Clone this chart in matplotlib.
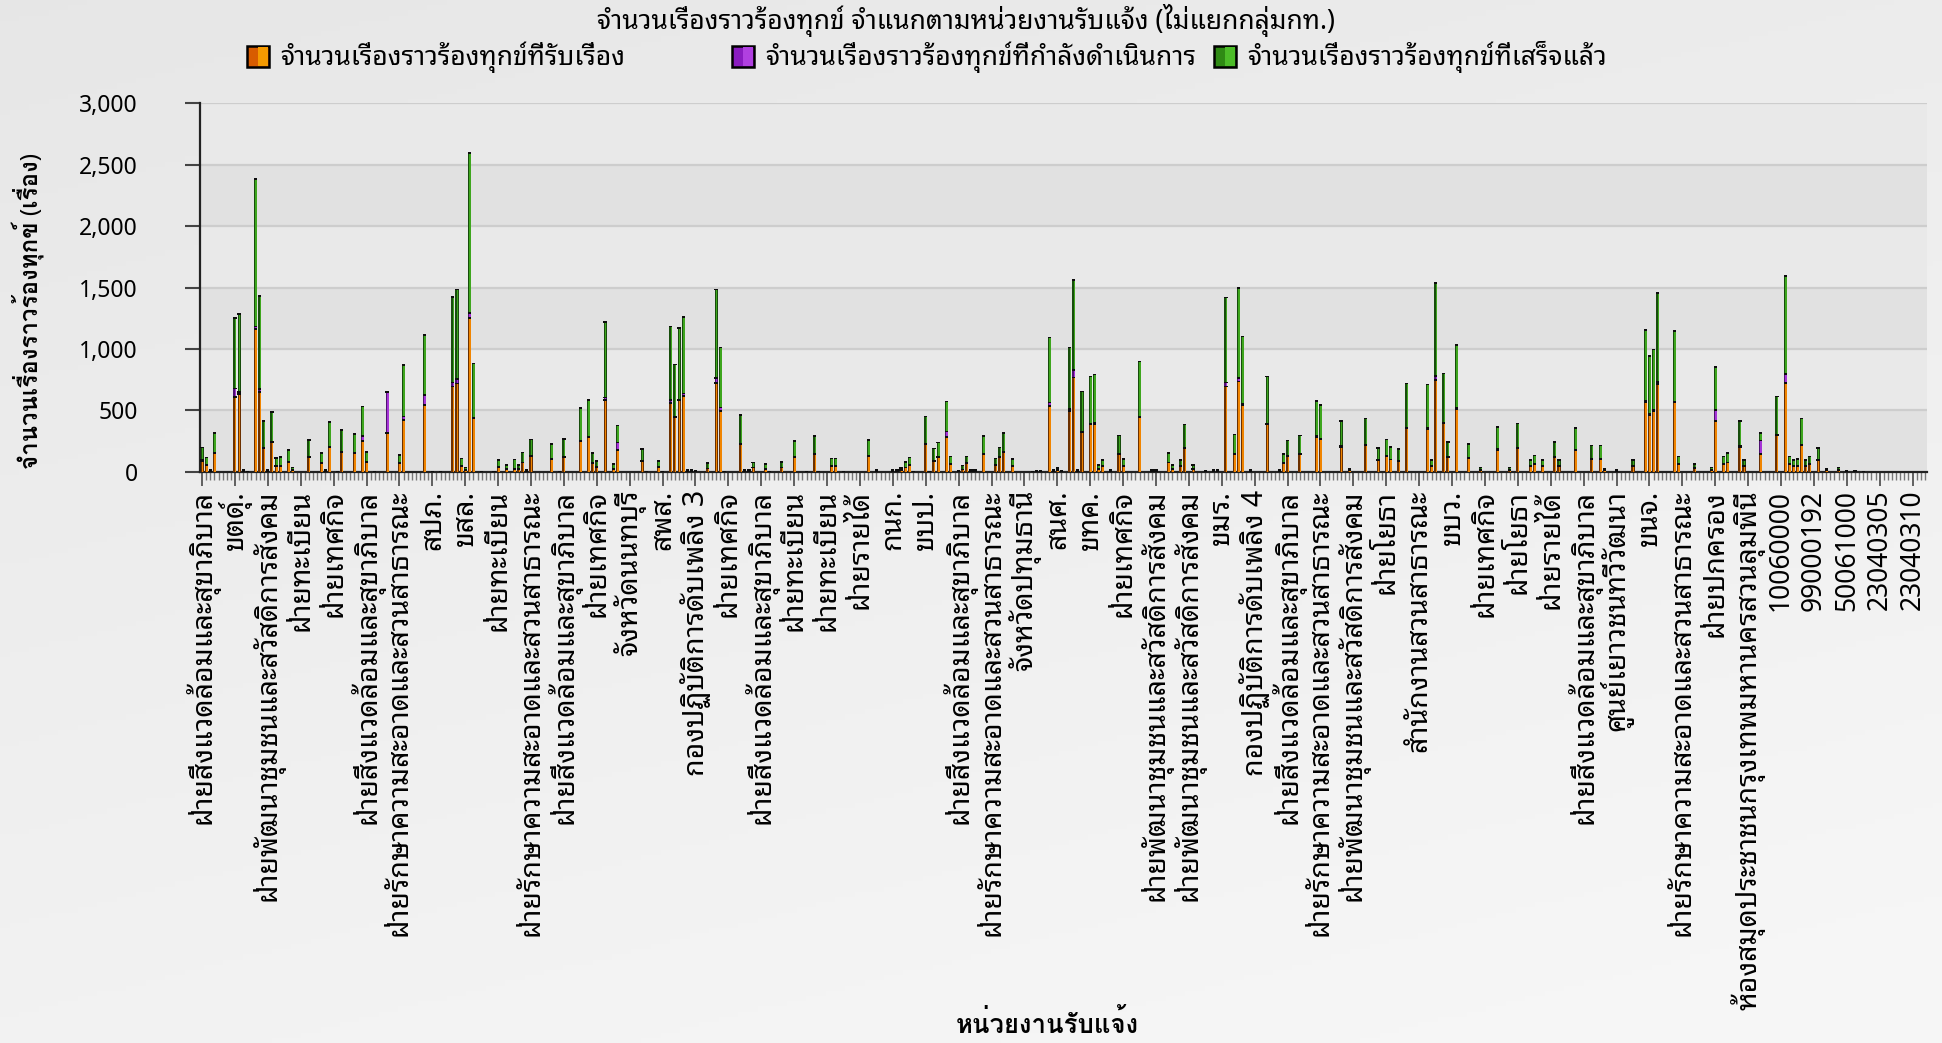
import numpy as np
import matplotlib
matplotlib.use('Agg')
import matplotlib.pyplot as plt
from matplotlib import font_manager as fm
from matplotlib.ft2font import FT2Font
from matplotlib.patches import Rectangle
from matplotlib.ticker import FuncFormatter, FixedLocator

# ---------------- data ----------------
n_categories = 420
tick_every = 8
tick_labels = [
    "ฝ่ายสิ่งแวดล้อมและสุขาภิบาล", "ขตดุ์.", "ฝ่ายพัฒนาชุมชนและสวัสดิการสังคม", "ฝ่ายทะเบียน",
    "ฝ่ายเทศกิจ", "ฝ่ายสิ่งแวดล้อมและสุขาภิบาล", "ฝ่ายรักษาความสะอาดและสวนสาธารณะ", "สปภ.",
    "ขสล.", "ฝ่ายทะเบียน", "ฝ่ายรักษาความสะอาดและสวนสาธารณะ", "ฝ่ายสิ่งแวดล้อมและสุขาภิบาล",
    "ฝ่ายเทศกิจ", "จังหวัดนนทบุรี", "สพส.", "กองปฏิบัติการดับเพลิง 3",
    "ฝ่ายเทศกิจ", "ฝ่ายสิ่งแวดล้อมและสุขาภิบาล", "ฝ่ายทะเบียน", "ฝ่ายทะเบียน",
    "ฝ่ายรายได้", "กนก.", "ขบป.", "ฝ่ายสิ่งแวดล้อมและสุขาภิบาล",
    "ฝ่ายรักษาความสะอาดและสวนสาธารณะ", "จังหวัดปทุมธานี", "สนศ.", "ขทค.",
    "ฝ่ายเทศกิจ", "ฝ่ายพัฒนาชุมชนและสวัสดิการสังคม", "ฝ่ายพัฒนาชุมชนและสวัสดิการสังคม", "ขมร.",
    "กองปฏิบัติการดับเพลิง 4", "ฝ่ายสิ่งแวดล้อมและสุขาภิบาล", "ฝ่ายรักษาความสะอาดและสวนสาธารณะ",
    "ฝ่ายพัฒนาชุมชนและสวัสดิการสังคม", "ฝ่ายโยธา", "สำนักงานสวนสาธารณะ", "ขบว.",
    "ฝ่ายเทศกิจ", "ฝ่ายโยธา", "ฝ่ายรายได้", "ฝ่ายสิ่งแวดล้อมและสุขาภิบาล",
    "ศูนย์เยาวชนทวีวัฒนา", "ขนจ.", "ฝ่ายรักษาความสะอาดและสวนสาธารณะ", "ฝ่ายปกครอง",
    "ห้องสมุดประชาชนกรุงเทพมหานครสวนลุมพินี", "10060000", "99000192", "50061000",
    "23040305", "23040310",
]

# category index of each non-empty bar
bar_index = [
    0, 1, 2, 3, 8, 9, 10, 11, 13, 14, 15, 16, 17, 18, 19, 21, 22, 26, 29, 30,
    31, 33, 34, 37, 39, 40, 42, 45, 48, 49, 54, 56, 58, 61, 62, 63, 64, 65, 66, 68,
    71, 72, 74, 76, 77, 78, 79, 80, 85, 87, 88, 92, 94, 95, 96, 98, 100, 101, 107, 108,
    111, 112, 114, 115, 116, 117, 118, 119, 120, 123, 125, 126, 127, 131, 132, 133, 134, 137, 138, 141,
    144, 147, 149, 150, 153, 154, 156, 162, 164, 168, 169, 170, 171, 172, 173, 176, 177, 178, 179, 181,
    182, 184, 185, 186, 187, 188, 190, 193, 194, 195, 197, 202, 203, 204, 206, 207, 208, 209,
    211, 212, 213, 214, 216, 217, 218, 219, 221, 223, 224, 228, 231, 232, 235, 236, 238, 239, 241, 244,
    246, 247, 249, 251, 252, 253, 255, 259, 262, 263, 264, 267, 271, 272, 277, 279, 283, 286, 288, 289,
    291, 293, 298, 299, 300, 302, 303, 305, 308, 311, 315, 318, 320, 323, 324, 326, 329, 330, 334, 338,
    340, 341, 344, 348, 351, 352, 353, 354, 358, 359, 363, 367, 368, 370, 371, 374, 375, 379, 383, 385,
    386, 387, 388, 389, 390, 391, 393, 395, 398, 400, 402, 404,
]
received = [
    95, 62, 10, 157, 616, 638, 10, 5, 1167, 657, 195, 10, 247, 52, 52, 84, 20, 122, 76, 10,
    204, 5, 168, 155, 258, 81, 5, 320, 73, 429, 548, 5, 5, 700, 725, 54, 20, 1257, 440, 5,
    5, 41, 30, 27, 30, 81, 10, 130, 111, 5, 128, 255, 290, 76, 46, 589, 30, 182, 95, 5,
    46, 5, 565, 448, 589, 624, 10, 12, 7, 33, 730, 502, 5, 231, 10, 10, 41, 27, 5, 41,
    128, 5, 149, 5, 54, 54, 5, 130, 10, 12, 10, 17, 40, 62, 5, 231, 5, 95, 122, 290,
    68, 7, 25, 73, 10, 10, 149, 57, 122, 163, 52, 5, 7, 7, 543, 10, 17, 7,
    500, 774, 10, 330, 390, 395, 30, 50, 10, 150, 55, 450, 10, 12, 80, 30, 50, 195, 30, 7,
    10, 12, 700, 150, 741, 550, 10, 390, 10, 75, 130, 150, 290, 270, 210, 15, 220, 100, 135, 105,
    95, 360, 355, 50, 752, 400, 125, 515, 115, 20, 185, 20, 200, 50, 70, 50, 125, 50, 180, 110,
    110, 15, 10, 50, 570, 470, 500, 720, 570, 65, 35, 20, 420, 65, 80, 210, 50, 150, 300, 730,
    65, 50, 55, 220, 50, 65, 100, 15, 20, 8, 8, 5,
]
in_progress = [
    5, 2, 2, 3, 68, 19, 1, 0, 22, 21, 4, 1, 4, 3, 3, 4, 1, 3, 2, 1,
    4, 0, 3, 3, 40, 3, 0, 330, 2, 27, 84, 0, 0, 33, 35, 2, 1, 43, 5, 0,
    0, 2, 1, 2, 1, 2, 1, 3, 2, 0, 3, 4, 4, 2, 1, 22, 1, 62, 2, 0,
    1, 0, 24, 4, 4, 19, 1, 1, 1, 1, 38, 27, 0, 3, 1, 1, 1, 1, 0, 1,
    2, 0, 2, 0, 2, 2, 0, 3, 1, 1, 1, 1, 1, 2, 0, 3, 0, 2, 2, 44,
    2, 1, 1, 2, 1, 1, 2, 2, 2, 3, 2, 0, 0, 0, 27, 1, 1, 1,
    18, 60, 1, 5, 5, 8, 1, 2, 1, 3, 2, 5, 1, 1, 2, 1, 2, 5, 1, 1,
    1, 1, 33, 5, 28, 8, 1, 5, 1, 2, 3, 3, 5, 5, 4, 1, 4, 2, 3, 2,
    2, 5, 5, 2, 33, 6, 3, 8, 3, 1, 4, 1, 4, 2, 2, 2, 3, 2, 4, 2,
    2, 1, 1, 2, 10, 8, 8, 15, 8, 2, 1, 1, 90, 2, 2, 4, 2, 110, 10, 70,
    2, 2, 2, 4, 2, 2, 2, 1, 1, 1, 1, 0,
]
completed = [
    104, 58, 7, 160, 573, 632, 8, 3, 1201, 758, 222, 8, 243, 62, 70, 94, 20, 138, 79, 8,
    202, 3, 174, 154, 239, 84, 3, 10, 69, 418, 486, 3, 3, 697, 730, 58, 20, 1300, 442, 3,
    3, 57, 29, 77, 31, 80, 8, 136, 118, 3, 140, 265, 295, 79, 48, 613, 37, 139, 93, 3,
    48, 3, 600, 427, 582, 622, 8, 11, 6, 42, 722, 489, 3, 233, 8, 8, 39, 40, 3, 42,
    128, 3, 145, 3, 58, 58, 3, 130, 8, 11, 8, 17, 46, 58, 3, 222, 3, 98, 120, 244,
    60, 6, 31, 55, 8, 8, 145, 55, 80, 154, 55, 3, 5, 5, 529, 8, 17, 6,
    500, 735, 8, 325, 387, 395, 29, 48, 8, 148, 53, 449, 10, 10, 78, 29, 48, 192, 29, 5,
    8, 10, 692, 155, 735, 550, 8, 387, 8, 73, 127, 147, 285, 275, 206, 14, 216, 98, 132, 103,
    93, 360, 357, 48, 757, 400, 122, 514, 112, 19, 181, 19, 196, 48, 68, 48, 122, 48, 176, 108,
    108, 14, 8, 48, 580, 472, 492, 725, 572, 63, 34, 19, 350, 63, 78, 206, 48, 60, 310, 800,
    63, 48, 53, 216, 48, 63, 98, 14, 19, 6, 6, 4,
]

series_names = ["จำนวนเรื่องราวร้องทุกข์ที่รับเรื่อง",
                "จำนวนเรื่องราวร้องทุกข์ที่กำลังดำเนินการ",
                "จำนวนเรื่องราวร้องทุกข์ที่เสร็จแล้ว"]
title = "จำนวนเรื่องราวร้องทุกข์ จำแนกตามหน่วยงานรับแจ้ง (ไม่แยกกลุ่มกท.)"
y_title = "จำนวนเรื่องราวร้องทุกข์ (เรื่อง)"
x_title = "หน่วยงานรับแจ้ง"

# ---------------- fonts ----------------
def thai_faces():
    faces = {}
    for f in fm.fontManager.ttflist:
        try:
            if 0x0E01 in FT2Font(f.fname).get_charmap():
                faces.setdefault(f.name, set()).add(int(f.weight) if str(f.weight).isdigit() else 400)
        except Exception:
            pass
    return faces

faces = thai_faces()
cands = ['Noto Sans Thai Looped', 'Noto Sans Thai', 'Noto Sans Thai UI', 'Loma', 'Sarabun']
thai_family = next((c for c in cands if c in faces), None)
bold_family = next((c for c in cands if c in faces and max(faces[c]) >= 600), thai_family)
families = ['Noto Sans'] + ([thai_family] if thai_family else []) + ['DejaVu Sans']
bold_families = ['Noto Sans'] + ([bold_family] if bold_family else []) + ['DejaVu Sans']
plt.rcParams['font.family'] = families

# ---------------- figure ----------------
W, H = 1942, 1043
fig = plt.figure(figsize=(W / 100, H / 100), dpi=100)

# background gradient
bg = fig.add_axes([0, 0, 1, 1], zorder=-10)
yy, xx = np.mgrid[0:1:200j, 0:1:200j]
grad = 0.905 + 0.06 * np.clip(0.75 * yy + 0.35 * xx, 0, 1)
bg.imshow(np.dstack([grad, grad, grad]), aspect='auto', extent=[0, 1, 0, 1], origin='upper')
bg.axis('off')

left, right = 200 / W, 1927 / W
bottom, top = 1 - 471.7 / H, 1 - 103.3 / H
ax = fig.add_axes([left, bottom, right - left, top - bottom])
ax.set_facecolor('#e9e9e9')
for lo in (0, 1000, 2000):
    ax.axhspan(lo, lo + 500, color='#e1e1e1', zorder=0, lw=0)
for yv in range(500, 3001, 500):
    ax.axhline(yv, color='#cdcdcd', lw=1.6, zorder=1)

x = np.array(bar_index, dtype=float)
o = np.array(received, dtype=float)
p = np.array(in_progress, dtype=float)
g = np.array(completed, dtype=float)

styles = [('#6b3000', '#f08400'), ('#4e1070', '#a634d6'), ('#174d0c', '#3ea61e')]
bw = 0.74
cap = 13
base = np.zeros_like(o)
for vals, (dark, bright) in zip([o, p, g], styles):
    m = vals > 0
    ax.bar(x[m], vals[m], bottom=base[m], width=bw, color=dark, lw=0, zorder=3)
    ax.bar(x[m] + bw * 0.22, vals[m], bottom=base[m], width=bw * 0.5, color=bright, lw=0, zorder=4)
    tops = base + vals
    capb = np.maximum(tops - cap, base)
    ax.bar(x[m], (tops - capb)[m], bottom=capb[m], width=bw * 1.05, color='#0d0d0d', lw=0, zorder=5)
    base = tops

ax.set_xlim(-0.5, n_categories - 0.5)
ax.set_ylim(0, 3000)
for s in ['top', 'right']:
    ax.spines[s].set_visible(False)
ax.spines['left'].set_color('#222222')
ax.spines['left'].set_linewidth(1.6)
ax.spines['bottom'].set_color('#222222')
ax.spines['bottom'].set_linewidth(1.6)

major_pos = list(range(0, n_categories, tick_every))[:len(tick_labels)]
ax.xaxis.set_major_locator(FixedLocator(major_pos))
ax.xaxis.set_minor_locator(FixedLocator(list(range(n_categories))))
ax.set_xticklabels(tick_labels, rotation=90, fontsize=20.5, va='top', ha='center')
for t in ax.get_xticklabels():
    if t.get_text().isdigit():
        t.set_fontsize(19)
ax.tick_params(axis='x', which='major', length=10, width=1.3, color='#555555', pad=3)
ax.tick_params(axis='x', which='minor', length=6, width=1.0, color='#777777')

ax.yaxis.set_major_locator(FixedLocator(list(range(0, 3001, 500))))
ax.yaxis.set_major_formatter(FuncFormatter(lambda v, _: f"{int(v):,}"))
ax.tick_params(axis='y', which='major', length=11, width=1.5, color='#444444', pad=34, labelsize=16.5)

# titles
fig.text(966 / W, 1 - 20 / H, title, ha='center', va='center', fontsize=19)
fig.text(28 / W, 1 - 311 / H, y_title, rotation=90, ha='center', va='center',
         fontsize=17.3, fontweight='bold', family=bold_families)
fig.text(1047 / W, 1 - 1025 / H, x_title, ha='center', va='center', fontsize=18.5,
         fontweight='bold', family=bold_families)

# legend (manual)
leg_x = [247, 732, 1214]
leg_cols = [('#d85c00', '#f59a00'), ('#8a1cc0', '#b040e0'), ('#2f8a14', '#4cbc28')]
for lx, name, (c1, c2) in zip(leg_x, series_names, leg_cols):
    fig.patches.append(Rectangle((lx / W, 1 - 67 / H), 22 / W, 21 / H, transform=fig.transFigure,
                                 facecolor=c1, edgecolor='black', lw=1.8))
    fig.patches.append(Rectangle(((lx + 11) / W, 1 - 66 / H), 10 / W, 19 / H, transform=fig.transFigure,
                                 facecolor=c2, edgecolor='none', lw=0))
    fig.text((lx + 33) / W, 1 - 57 / H, name, ha='left', va='center', fontsize=19)

fig.savefig('out.png', dpi=100)
